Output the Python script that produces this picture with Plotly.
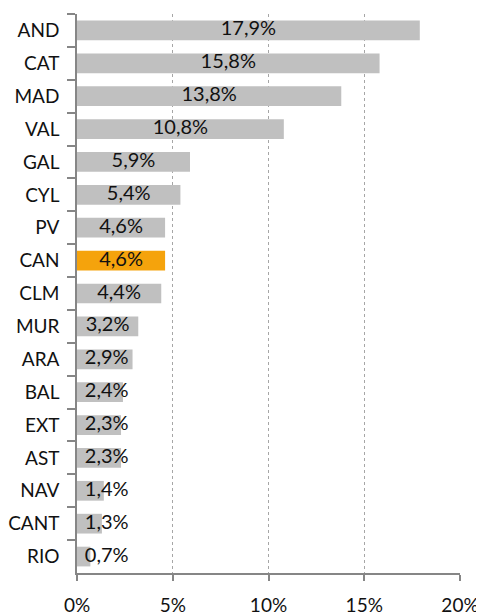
import plotly.graph_objects as go

categories = ["AND", "CAT", "MAD", "VAL", "GAL", "CYL", "PV", "CAN", "CLM",
              "MUR", "ARA", "BAL", "EXT", "AST", "NAV", "CANT", "RIO"]
values = [17.9, 15.8, 13.8, 10.8, 5.9, 5.4, 4.6, 4.6, 4.4,
          3.2, 2.9, 2.4, 2.3, 2.3, 1.4, 1.3, 0.7]
highlight = "CAN"
x_tick_vals = [0, 5, 10, 15, 20]
x_tick_text = ["0%", "5%", "10%", "15%", "20%"]

GRAY = "#C0C0C0"
ORANGE = "#F5A30C"
FONT = "Lato"

colors = [ORANGE if c == highlight else GRAY for c in categories]
labels = [f"{v:.1f}".replace(".", ",") + "%" for v in values]
label_x = [max(v / 2, 1.55) for v in values]

fig = go.Figure()
fig.add_trace(go.Bar(
    y=categories, x=values, orientation="h",
    marker=dict(color=colors, line=dict(width=0)),
    width=0.6, hoverinfo="skip", showlegend=False,
))
fig.add_trace(go.Scatter(
    y=categories, x=label_x, mode="text", text=labels,
    textposition="middle center",
    textfont=dict(family=FONT, size=20, color="#111111"),
    hoverinfo="skip", showlegend=False, cliponaxis=False,
))

# page body adds an 8px offset, so the figure is sized/margined to compensate
fig.update_layout(
    width=476, height=607,
    margin=dict(l=69, r=24, t=6, b=42, autoexpand=False),
    paper_bgcolor="white", plot_bgcolor="white",
    font=dict(family=FONT, size=19, color="#111111"),
    bargap=0.4,
)
fig.update_xaxes(
    range=[0, 20], tickvals=x_tick_vals, ticktext=x_tick_text,
    showgrid=True, gridcolor="#A6A6A6", griddash="dot", gridwidth=1,
    showline=True, linecolor="#868686", linewidth=1.5,
    ticks="outside", ticklen=6, tickcolor="#868686", tickwidth=1.5,
    ticklabelstandoff=8, zeroline=False, fixedrange=True, automargin=False,
    tickfont=dict(size=19),
)
fig.update_yaxes(
    categoryorder="array", categoryarray=categories,
    range=[len(categories) - 0.5, -0.5],
    showgrid=False, showline=True, linecolor="#868686", linewidth=1.5,
    ticks="outside", ticklen=8, tickcolor="#868686", tickwidth=1.5,
    tickson="boundaries", ticklabelstandoff=12, fixedrange=True, automargin=False,
    tickfont=dict(size=19),
)

fig.write_html("out.html")
